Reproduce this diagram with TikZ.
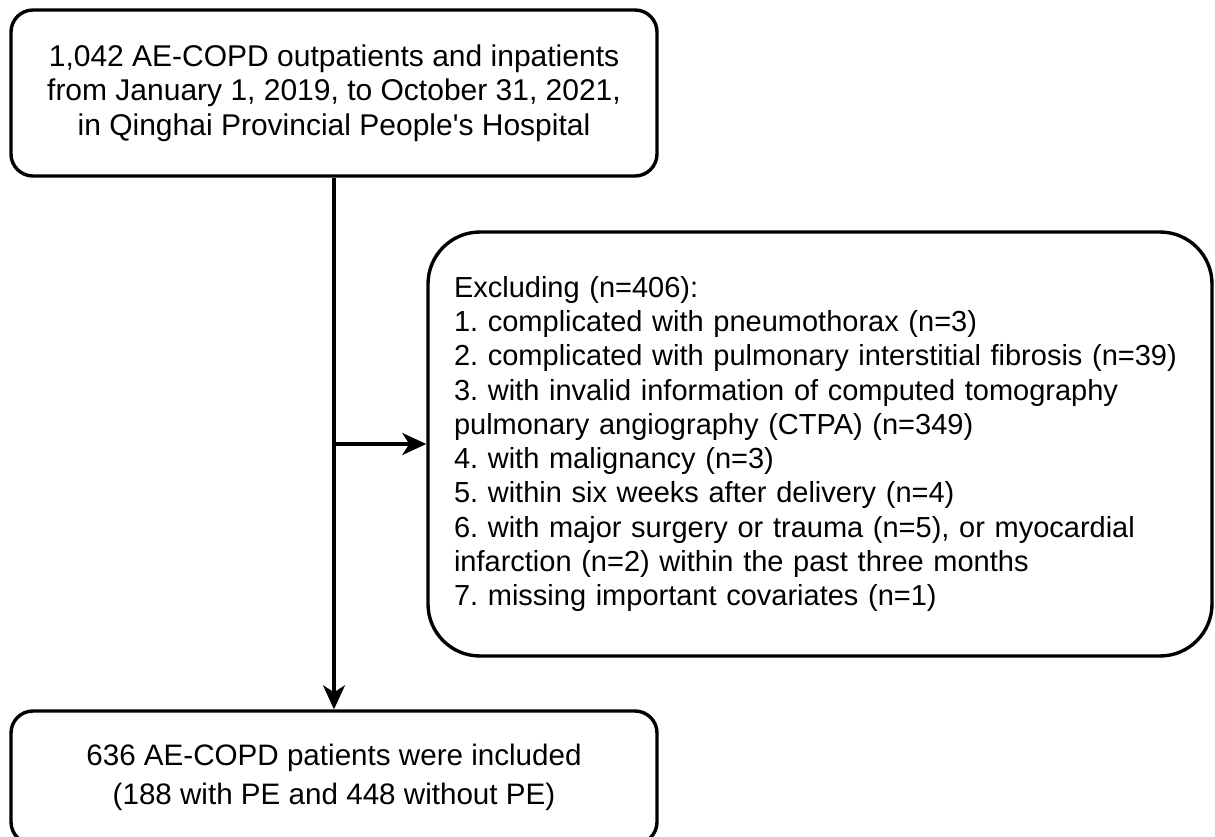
\documentclass[tikz,border=0pt]{standalone}
\usepackage{fontspec}
\setmainfont{Liberation Sans}
\usetikzlibrary{arrows.meta, positioning}
\frenchspacing

\begin{document}
\begin{tikzpicture}[
x=1pt, y=1pt,
node distance=351pt,
box/.style={
    draw, line width=3.4pt, rounded corners=22pt, align=center,
    minimum width=646pt, minimum height=166pt,
    font=\fontsize{30}{34.5}\selectfont
},
exclude/.style={box, rounded corners=52pt, align=left,
    text width=732pt, inner xsep=26pt, minimum height=424pt,
    font=\fontsize{29}{34.3}\selectfont},
result/.style={box, minimum height=133pt, font=\fontsize{29.6}{39}\selectfont},
arrow/.style={-{Stealth[length=24pt, width=22pt, inset=7pt]}, line width=3.2pt}
]

\useasboundingbox (0,0) rectangle (1215,-837);

\node (source) [box] at (334,-93) {1,042 AE-COPD outpatients and inpatients\\from January 1, 2019, to October 31, 2021,\\in Qinghai Provincial People\textquotesingle s Hospital};

\node (excluded) [below of=source, xshift=486pt, exclude] {Excluding (n=406):\\
1. complicated with pneumothorax (n=3)\\
2. complicated with pulmonary interstitial fibrosis (n=39)\\
3. with invalid information of computed tomography\\
pulmonary angiography (CTPA) (n=349)\\
4. with malignancy (n=3)\\
5. within six weeks after delivery (n=4)\\
6. with major surgery or trauma (n=5), or myocardial\\
infarction (n=2) within the past three months\\
7. missing important covariates (n=1)};

\node (included) [below of=source, yshift=-333.5pt, result] {636 AE-COPD patients were included\\(188 with PE and 448 without PE)};

\coordinate (split) at (source.south |- excluded.west);

\draw[arrow] (source.south) -- (included.north);
\draw[arrow] (split) -- (excluded.west);

\end{tikzpicture}
\end{document}
